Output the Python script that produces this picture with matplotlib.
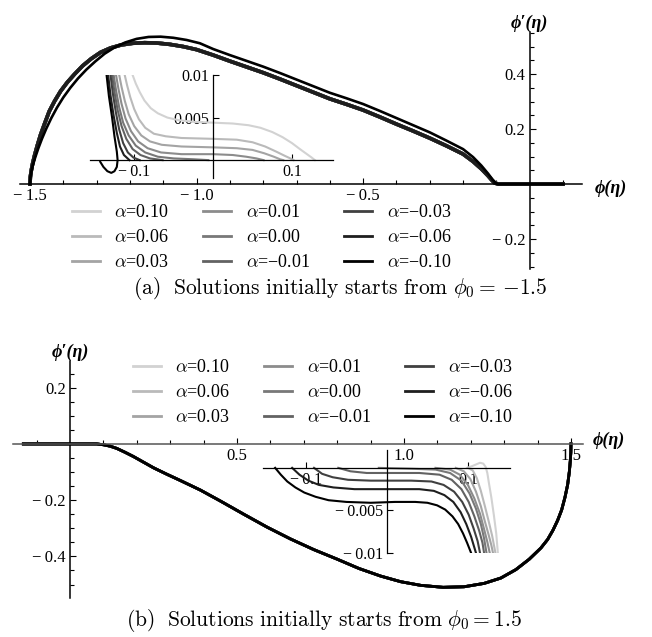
import numpy as np
import matplotlib.pyplot as plt
from matplotlib.ticker import FixedLocator
from matplotlib.lines import Line2D

plt.rcParams['mathtext.fontset'] = 'cm'
plt.rcParams['font.family'] = ['Liberation Serif', 'DejaVu Serif']

# ---- data ----
alphas = [0.10, 0.06, 0.03, 0.01, 0.00, -0.01, -0.03, -0.06, -0.10]
alpha_labels = ['0.10', '0.06', '0.03', '0.01', '0.00', '\u22120.01', '\u22120.03', '\u22120.06', '\u22120.10']

# panel (a), main: eight curves practically coincide, alpha=-0.10 separates a little
phi_a_bundle = [-1.500, -1.499, -1.496, -1.492, -1.486, -1.478, -1.468, -1.456, -1.442, -1.426,
                -1.408, -1.388, -1.366, -1.342, -1.316, -1.288, -1.258, -1.226, -1.192, -1.156,
                -1.120, -1.080, -1.040, -1.000, -0.950, -0.900, -0.850, -0.800, -0.750, -0.700,
                -0.650, -0.600, -0.550, -0.500, -0.450, -0.400, -0.350, -0.300, -0.250, -0.200,
                -0.170, -0.145, -0.125, -0.112, -0.105, -0.095, 0.000, 0.100]
dphi_a_bundle = [0.000, 0.025, 0.050, 0.075, 0.105, 0.140, 0.180, 0.220, 0.265, 0.302,
                 0.338, 0.370, 0.400, 0.430, 0.456, 0.479, 0.495, 0.506, 0.512, 0.514,
                 0.513, 0.508, 0.500, 0.489, 0.469, 0.447, 0.426, 0.405, 0.382, 0.358,
                 0.334, 0.310, 0.290, 0.269, 0.244, 0.218, 0.193, 0.167, 0.139, 0.109,
                 0.082, 0.055, 0.030, 0.012, 0.004, 0.000, 0.000, 0.000]
phi_a_black = [-1.500, -1.499, -1.496, -1.491, -1.484, -1.475, -1.464, -1.451, -1.436, -1.419,
               -1.400, -1.379, -1.356, -1.331, -1.304, -1.276, -1.246, -1.214, -1.180, -1.144,
               -1.108, -1.070, -1.030, -0.990, -0.950, -0.900, -0.850, -0.800, -0.750, -0.700,
               -0.650, -0.600, -0.550, -0.500, -0.450, -0.400, -0.350, -0.300, -0.250, -0.200,
               -0.170, -0.145, -0.125, -0.112, -0.103, -0.095, 0.000, 0.100]
dphi_a_black = [0.000, 0.022, 0.045, 0.070, 0.098, 0.130, 0.165, 0.202, 0.240, 0.278,
                0.315, 0.350, 0.384, 0.416, 0.446, 0.474, 0.497, 0.515, 0.528, 0.535,
                0.536, 0.532, 0.524, 0.512, 0.491, 0.469, 0.448, 0.427, 0.404, 0.380,
                0.356, 0.332, 0.312, 0.291, 0.266, 0.240, 0.214, 0.188, 0.158, 0.127,
                0.098, 0.067, 0.038, 0.017, 0.005, 0.000, 0.000, 0.000]

# panel (b), main: all nine curves coincide
phi_b = [-0.140, 0.000, 0.080, 0.100, 0.120, 0.140, 0.165, 0.190, 0.220, 0.250,
         0.290, 0.330, 0.390, 0.450, 0.520, 0.590, 0.660, 0.730, 0.800, 0.865,
         0.930, 0.990, 1.050, 1.117, 1.180, 1.240, 1.290, 1.335, 1.375, 1.410,
         1.430, 1.446, 1.460, 1.472, 1.482, 1.490, 1.495, 1.498, 1.4995, 1.500]
dphi_b = [0.000, 0.000, 0.000, -0.003, -0.008, -0.016, -0.030, -0.045, -0.065, -0.085,
          -0.108, -0.130, -0.164, -0.203, -0.250, -0.296, -0.338, -0.376, -0.410, -0.443,
          -0.470, -0.490, -0.503, -0.510, -0.508, -0.496, -0.477, -0.447, -0.410, -0.370,
          -0.340, -0.307, -0.272, -0.235, -0.190, -0.145, -0.100, -0.060, -0.030, 0.000]

# panel (a), inset near the origin
ins_a_phi = [
    [-0.102, -0.098, -0.093, -0.087, -0.079, -0.070, -0.058, -0.044, -0.025, 0.000,
     0.025, 0.045, 0.060, 0.075, 0.088, 0.100, 0.110, 0.119, 0.125, 0.129],
    [-0.112, -0.109, -0.105, -0.100, -0.094, -0.086, -0.075, -0.060, -0.040, 0.000,
     0.030, 0.050, 0.066, 0.080, 0.091, 0.098, 0.102],
    [-0.119, -0.116, -0.112, -0.107, -0.100, -0.091, -0.080, -0.065, -0.040, 0.000,
     0.030, 0.050, 0.065, 0.077, 0.085, 0.089],
    [-0.123, -0.120, -0.116, -0.111, -0.104, -0.095, -0.083, -0.066, -0.040, 0.000,
     0.025, 0.042, 0.055, 0.064],
    [-0.126, -0.123, -0.119, -0.114, -0.107, -0.098, -0.086, -0.070, -0.050, -0.025, -0.006],
    [-0.128, -0.125, -0.121, -0.116, -0.110, -0.102, -0.092, -0.080, -0.064],
    [-0.130, -0.127, -0.123, -0.119, -0.114, -0.108, -0.101, -0.093],
    [-0.133, -0.130, -0.126, -0.122, -0.118, -0.113, -0.106],
    [-0.135, -0.132, -0.128, -0.125, -0.122, -0.121, -0.122, -0.125, -0.129, -0.134,
     -0.139, -0.143],
]
ins_a_dphi = [
    [0.0100, 0.0090, 0.0080, 0.0070, 0.0061, 0.0055, 0.0050, 0.0047, 0.0045, 0.0044,
     0.0043, 0.0041, 0.0038, 0.0033, 0.0027, 0.0020, 0.0013, 0.0007, 0.0003, 0.0],
    [0.0100, 0.0088, 0.0074, 0.0060, 0.0048, 0.0038, 0.0031, 0.0028, 0.0026, 0.0025,
     0.0024, 0.0021, 0.0016, 0.0010, 0.0005, 0.0002, 0.0],
    [0.0100, 0.0086, 0.0070, 0.0054, 0.0040, 0.0029, 0.0022, 0.0018, 0.0016, 0.0015,
     0.0014, 0.0012, 0.0008, 0.0004, 0.0001, 0.0],
    [0.0100, 0.0084, 0.0066, 0.0049, 0.0034, 0.0022, 0.0014, 0.0009, 0.0007, 0.0007,
     0.0006, 0.0004, 0.0002, 0.0],
    [0.0100, 0.0082, 0.0062, 0.0044, 0.0029, 0.0017, 0.0009, 0.0004, 0.0002, 0.0001, 0.0],
    [0.0100, 0.0080, 0.0059, 0.0040, 0.0025, 0.0013, 0.0006, 0.0002, 0.0],
    [0.0100, 0.0078, 0.0055, 0.0036, 0.0020, 0.0009, 0.0003, 0.0],
    [0.0100, 0.0076, 0.0052, 0.0032, 0.0016, 0.0006, 0.0],
    [0.0100, 0.0075, 0.0050, 0.0028, 0.0010, 0.0000, -0.0008, -0.0013, -0.0015, -0.0013,
     -0.0008, -0.0002],
]

# panel (b), inset near the origin
ins_b_phi = [
    [0.099, 0.105, 0.110, 0.115, 0.119, 0.122, 0.124, 0.126, 0.129, 0.132, 0.135, 0.137],
    [0.100, 0.106, 0.111, 0.116, 0.121, 0.126, 0.130, 0.132, 0.134],
    [0.085, 0.095, 0.103, 0.110, 0.116, 0.121, 0.126, 0.129, 0.131],
    [0.060, 0.078, 0.090, 0.100, 0.108, 0.115, 0.120, 0.124, 0.127],
    [-0.010, 0.030, 0.060, 0.078, 0.092, 0.102, 0.110, 0.116, 0.120, 0.123],
    [-0.060, -0.045, -0.025, 0.000, 0.040, 0.065, 0.080, 0.092, 0.101, 0.108, 0.114, 0.118, 0.120],
    [-0.090, -0.080, -0.067, -0.048, -0.020, 0.030, 0.055, 0.070, 0.083, 0.093, 0.101,
     0.107, 0.112, 0.115],
    [-0.117, -0.108, -0.097, -0.084, -0.066, -0.040, 0.000, 0.040, 0.058, 0.071, 0.082,
     0.091, 0.098, 0.104, 0.110],
    [-0.138, -0.131, -0.123, -0.113, -0.102, -0.088, -0.072, -0.050, -0.020, 0.010, 0.035,
     0.050, 0.062, 0.072, 0.081, 0.088, 0.094, 0.099, 0.104],
]
ins_b_dphi = [
    [0.0, 0.0002, 0.0004, 0.0006, 0.0005, 0.0001, -0.0006, -0.0018, -0.0035, -0.0055,
     -0.0077, -0.0100],
    [0.0, -0.0003, -0.0012, -0.0027, -0.0045, -0.0064, -0.0080, -0.0090, -0.0100],
    [0.0, -0.0004, -0.0013, -0.0028, -0.0045, -0.0063, -0.0080, -0.0091, -0.0100],
    [0.0, -0.0002, -0.0008, -0.0020, -0.0036, -0.0054, -0.0072, -0.0087, -0.0100],
    [0.0, -0.0001, -0.0002, -0.0006, -0.0015, -0.0030, -0.0048, -0.0066, -0.0083, -0.0100],
    [0.0, -0.0004, -0.0006, -0.0006, -0.0006, -0.0008, -0.0014, -0.0025, -0.0040, -0.0057,
     -0.0074, -0.0088, -0.0100],
    [0.0, -0.0007, -0.0011, -0.0014, -0.0015, -0.0015, -0.0016, -0.0020, -0.0028, -0.0040,
     -0.0055, -0.0071, -0.0086, -0.0100],
    [0.0, -0.0008, -0.0015, -0.0020, -0.0023, -0.0025, -0.0025, -0.0025, -0.0027, -0.0032,
     -0.0040, -0.0052, -0.0066, -0.0081, -0.0100],
    [0.0, -0.0008, -0.0016, -0.0023, -0.0029, -0.0034, -0.0038, -0.0040, -0.0041, -0.0040,
     -0.0040, -0.0041, -0.0044, -0.0049, -0.0057, -0.0066, -0.0077, -0.0088, -0.0100],
]

grays = ['#d2d2d2', '#bababa', '#a4a4a4', '#8c8c8c', '#787878', '#626262', '#404040', '#1e1e1e', '#000000']

W, H = 652, 637
fig = plt.figure(figsize=(W / 100, H / 100), dpi=100)


def rect(l, r, t, b):
    return [l / W, 1 - b / H, (r - l) / W, (b - t) / H]


def tlab(v):
    s = '%g' % abs(v)
    if abs(v) in (0.5, 1.0, 1.5):
        s = '%.1f' % abs(v)
    return ('\u2212\u2009' + s) if v < 0 else s


def zero_axes(ax, xlim, ylim, xmaj, xmin, ymaj, ymin, fs, xcolor='black'):
    ax.set_xlim(xlim)
    ax.set_ylim(ylim)
    ax.patch.set_visible(False)
    for s in ['top', 'right']:
        ax.spines[s].set_visible(False)
    ax.spines['left'].set_position(('data', 0))
    ax.spines['bottom'].set_position(('data', 0))
    ax.spines['left'].set_linewidth(1.1)
    ax.spines['bottom'].set_linewidth(1.1)
    ax.spines['bottom'].set_color(xcolor)
    ax.xaxis.set_major_locator(FixedLocator(xmaj))
    ax.yaxis.set_major_locator(FixedLocator(ymaj))
    ax.xaxis.set_minor_locator(FixedLocator(xmin))
    ax.yaxis.set_minor_locator(FixedLocator(ymin))
    ax.set_xticklabels([tlab(v) for v in xmaj])
    ax.set_yticklabels([tlab(v) for v in ymaj])
    ax.tick_params(which='both', direction='in', width=0.8, labelsize=fs, pad=3)
    ax.tick_params(which='major', length=4.5)
    ax.tick_params(which='minor', length=3)


def steps(lo, hi, d):
    n = int(round((hi - lo) / d))
    return [round(lo + i * d, 4) for i in range(n + 1) if abs(lo + i * d) > 1e-9]


lab_kw = dict(fontsize=13, fontweight='bold', fontstyle='italic')
ylab = '\u03d5\u2032(\u03b7)'
xlab = '\u03d5(\u03b7)'

# ---------- panel (a) ----------
ax_a = fig.add_axes(rect(20, 582, 32, 269))
for i in range(8):
    ax_a.plot(phi_a_bundle, dphi_a_bundle, color=grays[i], lw=2.6)
ax_a.plot(phi_a_black, dphi_a_black, color=grays[8], lw=1.9)
zero_axes(ax_a, (-1.53, 0.157), (-0.309, 0.553), [-1.5, -1.0, -0.5], steps(-1.5, 0.1, 0.1),
          [-0.2, 0.2, 0.4], steps(-0.3, 0.55, 0.05), 12)
ax_a.text(0, 1.0, ylab, transform=ax_a.get_xaxis_transform(),
          ha='center', va='bottom', **lab_kw)
ax_a.annotate(xlab, xy=(0.157, 0), xytext=(13, -4), textcoords='offset pixels',
              ha='left', va='center', **lab_kw)

ins_a = fig.add_axes(rect(90, 333, 75, 178))
for i in range(9):
    ins_a.plot(ins_a_phi[i], ins_a_dphi[i], color=grays[i], lw=1.5)
zero_axes(ins_a, (-0.156, 0.152), (-0.0021, 0.0100), [-0.1, 0.1], [],
          [0.005, 0.01], [], 11.5)
ins_a.spines['left'].set_linewidth(0.9)
ins_a.spines['bottom'].set_linewidth(0.9)

# ---------- panel (b) ----------
ax_b = fig.add_axes(rect(13, 583, 361, 598))
for i in range(9):
    ax_b.plot(phi_b, dphi_b, color=grays[i], lw=2.0)
zero_axes(ax_b, (-0.171, 1.536), (-0.548, 0.295), [0.5, 1.0, 1.5], steps(-0.1, 1.5, 0.1),
          [-0.4, -0.2, 0.2], steps(-0.55, 0.3, 0.05), 12, xcolor='#555555')
ax_b.text(0, 1.0, ylab, transform=ax_b.get_xaxis_transform(),
          ha='center', va='bottom', **lab_kw)
ax_b.annotate(xlab, xy=(1.536, 0), xytext=(10, 4), textcoords='offset pixels',
              ha='left', va='center', **lab_kw)

ins_b = fig.add_axes(rect(263, 510, 450, 553))
for i in range(9):
    ins_b.plot(ins_b_phi[i], ins_b_dphi[i], color=grays[i], lw=1.5)
zero_axes(ins_b, (-0.153, 0.152), (-0.0100, 0.0021), [-0.1, 0.1], [],
          [-0.01, -0.005], [], 11.5)
ins_b.spines['left'].set_linewidth(0.9)
ins_b.spines['bottom'].set_linewidth(0.9)

# ---------- legends ----------
labels = [r'$\alpha$=' + s for s in alpha_labels]
handles = [Line2D([], [], color=grays[i], lw=2.0) for i in range(9)]
leg_kw = dict(ncol=3, loc='upper left', frameon=False, fontsize=13, borderpad=0,
              borderaxespad=0, handlelength=1.55, handletextpad=0.8, columnspacing=1.9,
              labelspacing=0.44)
fig.legend(handles, labels, bbox_to_anchor=(72 / W, 1 - 204 / H), **leg_kw)
fig.legend(handles, labels, bbox_to_anchor=(133 / W, 1 - 359 / H), **leg_kw)

# ---------- captions ----------
fig.text(340 / W, 1 - 288 / H,
         r'$\mathrm{(a)\ \ Solutions\ initially\ starts\ from\ }\phi_0 =\,{-1.5}$',
         ha='center', va='center', fontsize=15.5)
fig.text(324 / W, 1 - 620 / H,
         r'$\mathrm{(b)\ \ Solutions\ initially\ starts\ from\ }\phi_0 = 1.5$',
         ha='center', va='center', fontsize=15.5)

fig.savefig('out.png', dpi=100)
